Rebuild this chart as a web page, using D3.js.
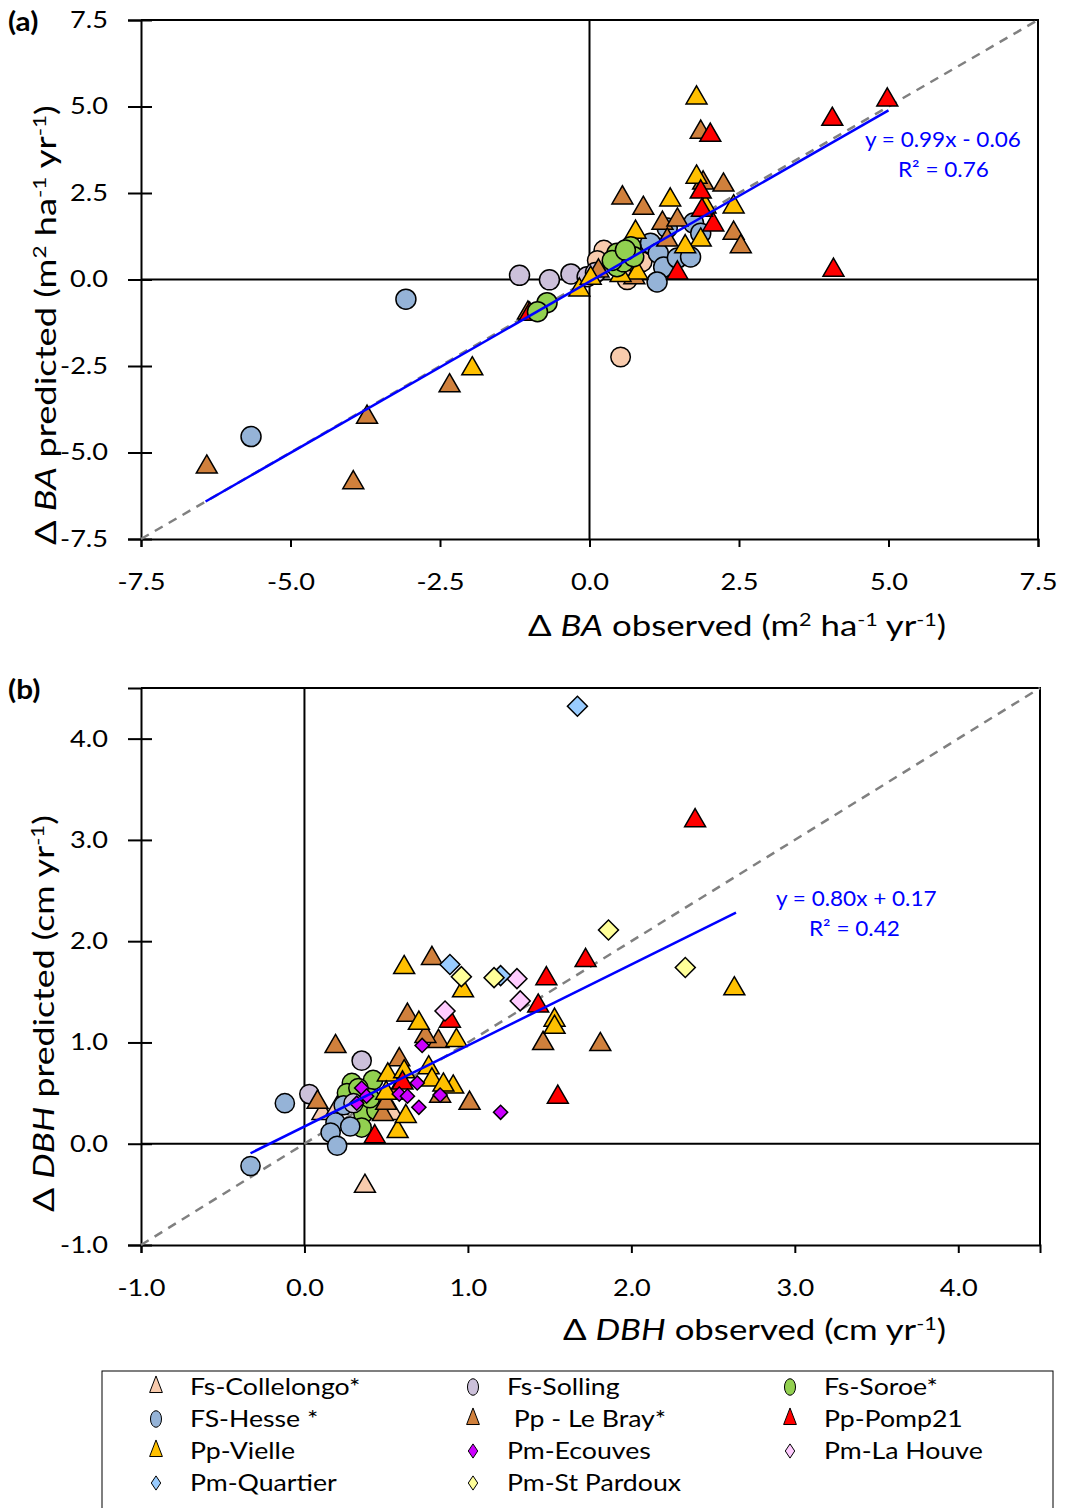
<!DOCTYPE html>
<html lang="en">
<head>
<meta charset="UTF-8">
<title>BA and DBH predicted vs observed</title>
<script src="https://cdnjs.cloudflare.com/ajax/libs/d3/7.8.5/d3.min.js"></script>
<style>
  body { margin: 0; background: #fff; }
  svg text { font-family: Lato, "Open Sans", sans-serif; }
  .axis path, .axis line { stroke: #000; stroke-width: 2; }
  .axis text { font-size: 23px; fill: #000; }
</style>
</head>
<body>
<div id="chart"></div>
<script>
// site list (legend order)
var siteNames = ['Fs-Collelongo*', 'Fs-Solling', 'Fs-Soroe*', 'FS-Hesse *', ' Pp - Le Bray*', 'Pp-Pomp21',
                 'Pp-Vielle', 'Pm-Ecouves', 'Pm-La Houve', 'Pm-Quartier', 'Pm-St Pardoux'];
var siteColors = ['#f8cbad', '#ccc0da', '#92d050', '#95b3d7', '#d0803c', '#ff0000',
                  '#ffc000', '#cc00ff', '#ffccff', '#99ccff', '#ffff99'];
var siteShapes = ['triangle', 'circle', 'circle', 'circle', 'triangle', 'triangle',
                  'triangle', 'diamond', 'diamond', 'diamond', 'diamond'];

// panel (a): BA observed vs predicted (m2 ha-1 yr-1)
var baCollelongo = [[0.24, 0.85], [0.63, -0.01], [0.88, 0.51], [0.52, -2.24], [0.13, 0.55]];
var baSolling = [[-1.17, 0.12], [-0.67, -0.01], [-0.31, 0.16], [-0.04, 0.08], [0.10, 0.20]];
var baSoroe = [[-0.71, -0.67], [-0.87, -0.93], [0.46, 0.76], [0.69, 0.95], [0.46, 0.37],
               [0.57, 0.51], [0.74, 0.66], [0.38, 0.55], [0.60, 0.85]];
var baHesse = [[-5.66, -4.54], [-3.07, -0.57], [1.02, 1.05], [1.15, 0.76], [1.24, 0.36], [1.30, 1.49],
               [1.47, 0.62], [1.69, 0.65], [1.13, -0.07], [1.74, 1.63], [1.86, 1.34]];
var baLeBray = [[-6.40, -5.42], [-3.95, -5.87], [-3.72, -3.98], [-2.34, -3.07], [-1.03, -0.97],
                [0.55, 2.36], [0.90, 2.06], [1.22, 1.63], [1.47, 1.72], [1.30, 1.14], [1.86, 4.26],
                [1.90, 2.79], [2.24, 2.73], [2.41, 1.34], [2.53, 0.95], [0.15, 0.25], [0.75, 0.05]];
var baPomp21 = [[4.98, 5.19], [4.06, 4.63], [4.08, 0.27], [2.02, 4.17], [1.86, 2.53], [2.07, 1.58],
                [1.47, 0.19], [-1.00, -1.00], [1.88, 2.00]];
var baVielle = [[1.79, 5.25], [1.79, 2.96], [1.94, 2.10], [2.41, 2.10], [1.86, 1.14], [1.35, 2.30],
                [0.77, 1.37], [0.80, 0.19], [-1.96, -2.58], [-0.17, -0.30], [0.02, 0.04], [0.52, 0.12],
                [1.60, 0.95]];

// panel (b): DBH observed vs predicted (cm yr-1)
var dbhCollelongo = [[0.11, 0.30], [0.54, 0.30], [0.37, -0.42], [0.20, 0.35]];
var dbhSolling = [[0.35, 0.82], [0.03, 0.49], [0.30, 0.40]];
var dbhSoroe = [[0.29, 0.60], [0.26, 0.50], [0.42, 0.63], [0.36, 0.30], [0.35, 0.16], [0.44, 0.33],
                [0.33, 0.55], [0.40, 0.45]];
var dbhHesse = [[-0.12, 0.40], [-0.33, -0.22], [0.19, 0.21], [0.16, 0.11], [0.20, -0.02], [0.28, 0.17],
                [0.24, 0.38]];
var dbhLeBray = [[0.19, 0.96], [0.08, 0.41], [0.58, 0.83], [0.63, 1.27], [0.82, 1.01], [0.78, 1.83],
                 [1.01, 0.40], [0.48, 0.29], [1.46, 0.99], [0.74, 1.06], [0.83, 0.47], [0.56, 0.50],
                 [1.81, 0.98], [0.50, 0.40]];
var dbhPomp21 = [[2.39, 3.19], [1.72, 1.81], [1.48, 1.63], [1.43, 1.36], [0.89, 1.21], [1.55, 0.46],
                 [0.43, 0.07], [0.60, 0.60]];
var dbhVielle = [[2.63, 1.53], [1.53, 1.22], [1.53, 1.15], [0.61, 1.74], [0.97, 1.51], [0.51, 0.68],
                 [0.57, 0.12], [0.62, 0.27], [0.76, 0.75], [0.78, 0.63], [0.91, 0.56], [0.85, 0.58],
                 [0.61, 0.71], [0.50, 0.50], [0.70, 1.19], [0.93, 1.02]];
var dbhEcouves = [[0.35, 0.55], [0.38, 0.47], [0.32, 0.40], [0.58, 0.49], [0.63, 0.47], [0.69, 0.60],
                  [0.83, 0.48], [0.70, 0.36], [0.72, 0.97], [1.20, 0.31]];
var dbhLaHouve = [[1.32, 1.41], [1.30, 1.63], [0.86, 1.31]];
var dbhQuartier = [[1.67, 4.32], [0.89, 1.77], [1.20, 1.66]];
var dbhStPardoux = [[1.86, 2.11], [2.33, 1.74], [1.16, 1.64], [0.96, 1.65]];

var baTicks = [-7.5, -5.0, -2.5, 0.0, 2.5, 5.0, 7.5];
var dbhTicks = [-1.0, 0.0, 1.0, 2.0, 3.0, 4.0];

// fits: [slope, intercept, xStart, xEnd]
var baFit = [0.99, -0.06, -6.42, 5.0];
var dbhFit = [0.80, 0.17, -0.33, 2.64];

// the reference text is a bit wider than Lato, stretch it horizontally
var STRETCH = 1.18;

var svg = d3.select('#chart').append('svg')
    .attr('width', 1066)
    .attr('height', 1508);

function markerPath(shape, size) {
  if (shape == 'circle') return d3.symbol(d3.symbolCircle, size)();
  if (shape == 'triangle') return d3.symbol(d3.symbolTriangle, size)();
  return d3.symbol(d3.symbolSquare, size)();
}

// text placed at x,y (optionally rotated), stretched along its run
function addText(parent, x, y, size, rotate, k) {
  return parent.append('text')
    .attr('transform', 'translate(' + x + ',' + y + ')' + (rotate ? ' rotate(-90)' : '') + ' scale(' + (k || STRETCH) + ',1)')
    .attr('font-size', size);
}

function drawPanel(opt) {
  var x = d3.scaleLinear().domain(opt.domain).range([141, opt.right]);
  var y = d3.scaleLinear().domain(opt.domain).range([opt.bottom, opt.top]);
  var g = svg.append('g');

  // frame top / right
  g.append('path')
    .attr('d', 'M' + x(opt.domain[0]) + ',' + y(opt.domain[1]) + 'H' + x(opt.domain[1]) + 'V' + y(opt.domain[0]))
    .attr('fill', 'none').attr('stroke', '#000').attr('stroke-width', 2);

  // zero lines
  g.append('line').attr('x1', x(0)).attr('x2', x(0)).attr('y1', y(opt.domain[0])).attr('y2', y(opt.domain[1]))
    .attr('stroke', '#000').attr('stroke-width', 2);
  g.append('line').attr('x1', x(opt.domain[0])).attr('x2', x(opt.domain[1])).attr('y1', y(0)).attr('y2', y(0))
    .attr('stroke', '#000').attr('stroke-width', 2);

  var fmt = function (d) { return d3.format('.1f')(d).replace('−', '-'); };
  var yAxis = g.append('g').attr('class', 'axis')
    .attr('transform', 'translate(141,0)')
    .call(d3.axisLeft(y).tickValues(opt.ticks).tickFormat(fmt).tickSize(13).tickPadding(20));
  yAxis.selectAll('.tick line').attr('x1', 11);
  yAxis.selectAll('.tick text').attr('x', 0).attr('transform', 'translate(-33,0) scale(' + STRETCH + ',1)');
  var xAxis = g.append('g').attr('class', 'axis')
    .attr('transform', 'translate(0,' + opt.bottom + ')')
    .call(d3.axisBottom(x).tickValues(opt.ticks).tickFormat(fmt).tickSize(8).tickPadding(27));
  xAxis.selectAll('.tick text').attr('transform', 'scale(' + STRETCH + ',1)');

  // 1:1 line
  g.append('line')
    .attr('x1', x(opt.domain[0])).attr('y1', y(opt.domain[0]))
    .attr('x2', x(opt.domain[1])).attr('y2', y(opt.domain[1]))
    .attr('stroke', '#808080').attr('stroke-width', 2.5).attr('stroke-dasharray', '9,7');

  // points
  opt.series.forEach(function (s) {
    var i = siteNames.indexOf(s.name);
    var shape = s.shape || siteShapes[i];
    g.selectAll(null)
      .data(s.data)
      .enter()
      .append('path')
      .attr('d', markerPath(shape, s.size))
      .attr('transform', function (d) {
        return 'translate(' + x(d[0]) + ',' + y(d[1]) + ')' + (shape == 'diamond' ? ' rotate(45)' : '');
      })
      .attr('fill', siteColors[i])
      .attr('stroke', '#000')
      .attr('stroke-width', 1.5);
  });

  // regression line
  var f = opt.fit;
  g.append('line')
    .attr('x1', x(f[2])).attr('y1', y(f[0] * f[2] + f[1]))
    .attr('x2', x(f[3])).attr('y2', y(f[0] * f[3] + f[1]))
    .attr('stroke', '#0000ff').attr('stroke-width', 2.5);

  addText(g, opt.eqX, opt.eqY, 20.5, false, 1.1).attr('fill', '#0000ff').text(opt.eq);
  addText(g, opt.eqX + 33, opt.eqY + 30, 20.5, false, 1.1).attr('fill', '#0000ff').text('R² = ' + opt.r2);

  addText(g, 8, opt.top + 11, 27, false, 1.1).attr('font-weight', 'bold').text(opt.label);

  return { x: x, y: y, g: g };
}

drawPanel({
  domain: [-7.5, 7.5], ticks: baTicks, right: 1038, top: 20, bottom: 539, fit: baFit,
  eq: 'y = 0.99x - 0.06', r2: '0.76', eqX: 865, eqY: 147, label: '(a)',
  series: [
    // Collelongo is drawn as circles in panel (a)
    { name: 'Fs-Collelongo*', data: baCollelongo, size: 300, shape: 'circle' },
    { name: 'FS-Hesse *', data: baHesse, size: 314 },
    { name: 'Fs-Solling', data: baSolling, size: 314 },
    { name: ' Pp - Le Bray*', data: baLeBray, size: 190 },
    { name: 'Pp-Vielle', data: baVielle, size: 190 },
    { name: 'Pp-Pomp21', data: baPomp21, size: 190 },
    { name: 'Fs-Soroe*', data: baSoroe, size: 314 }
  ]
});

drawPanel({
  domain: [-1.0, 4.5], ticks: dbhTicks, right: 1040, top: 688, bottom: 1245, fit: dbhFit,
  eq: 'y = 0.80x + 0.17', r2: '0.42', eqX: 776, eqY: 906, label: '(b)',
  series: [
    { name: 'Fs-Collelongo*', data: dbhCollelongo, size: 190 },
    { name: 'Fs-Soroe*', data: dbhSoroe, size: 290 },
    { name: 'FS-Hesse *', data: dbhHesse, size: 290 },
    { name: 'Fs-Solling', data: dbhSolling, size: 290 },
    { name: ' Pp - Le Bray*', data: dbhLeBray, size: 190 },
    { name: 'Pp-Vielle', data: dbhVielle, size: 190 },
    { name: 'Pp-Pomp21', data: dbhPomp21, size: 190 },
    { name: 'Pm-Ecouves', data: dbhEcouves, size: 100 },
    { name: 'Pm-La Houve', data: dbhLaHouve, size: 200 },
    { name: 'Pm-Quartier', data: dbhQuartier, size: 200 },
    { name: 'Pm-St Pardoux', data: dbhStPardoux, size: 200 }
  ]
});

// axis titles
function supText(t, parts, size) {
  parts.forEach(function (p) {
    var ts = t.append('tspan').text(p[0]);
    if (p[1] == 'i') ts.attr('font-style', 'italic');
    if (p[1] == 's') ts.attr('font-size', size * 0.62).attr('baseline-shift', '55%');
  });
}
var tSize = 29;
supText(addText(svg, 528, 636, tSize, false, 1.2),
  [['Δ '], ['BA', 'i'], [' observed (m'], ['2', 's'], [' ha'], ['-1', 's'], [' yr'], ['-1', 's'], [')']], tSize);
supText(addText(svg, 56, 545, tSize, true, 1.25),
  [['Δ '], ['BA', 'i'], [' predicted  (m'], ['2', 's'], [' ha'], ['-1', 's'], [' yr'], ['-1', 's'], [')']], tSize);
supText(addText(svg, 563, 1340, tSize, false, 1.2),
  [['Δ '], ['DBH', 'i'], [' observed (cm yr'], ['-1', 's'], [')']], tSize);
supText(addText(svg, 54, 1212, tSize, true, 1.23),
  [['Δ '], ['DBH', 'i'], [' predicted  (cm yr'], ['-1', 's'], [')']], tSize);

// legend
var legend = svg.append('g');
legend.append('rect').attr('x', 102).attr('y', 1371).attr('width', 951).attr('height', 200)
  .attr('fill', 'none').attr('stroke', '#000').attr('stroke-width', 1);
var legX = [156, 473, 790];
siteNames.forEach(function (n, i) {
  var col = i % 3, row = Math.floor(i / 3);
  var cx = legX[col], cy = 1387 + row * 32;
  var shape = siteShapes[i];
  legend.append('path')
    .attr('d', markerPath(shape, shape == 'diamond' ? 70 : (shape == 'circle' ? 150 : 110)))
    .attr('transform', 'translate(' + cx + ',' + cy + ') scale(0.8,1.2)' + (shape == 'diamond' ? ' rotate(45)' : ''))
    .attr('fill', siteColors[i])
    .attr('stroke', '#000')
    .attr('stroke-width', 1)
    .attr('vector-effect', 'non-scaling-stroke');
  addText(legend, cx + 34, cy + 8, 23, false, 1.16)
    .attr('xml:space', 'preserve').style('white-space', 'pre').text(n);
});
</script>
</body>
</html>
